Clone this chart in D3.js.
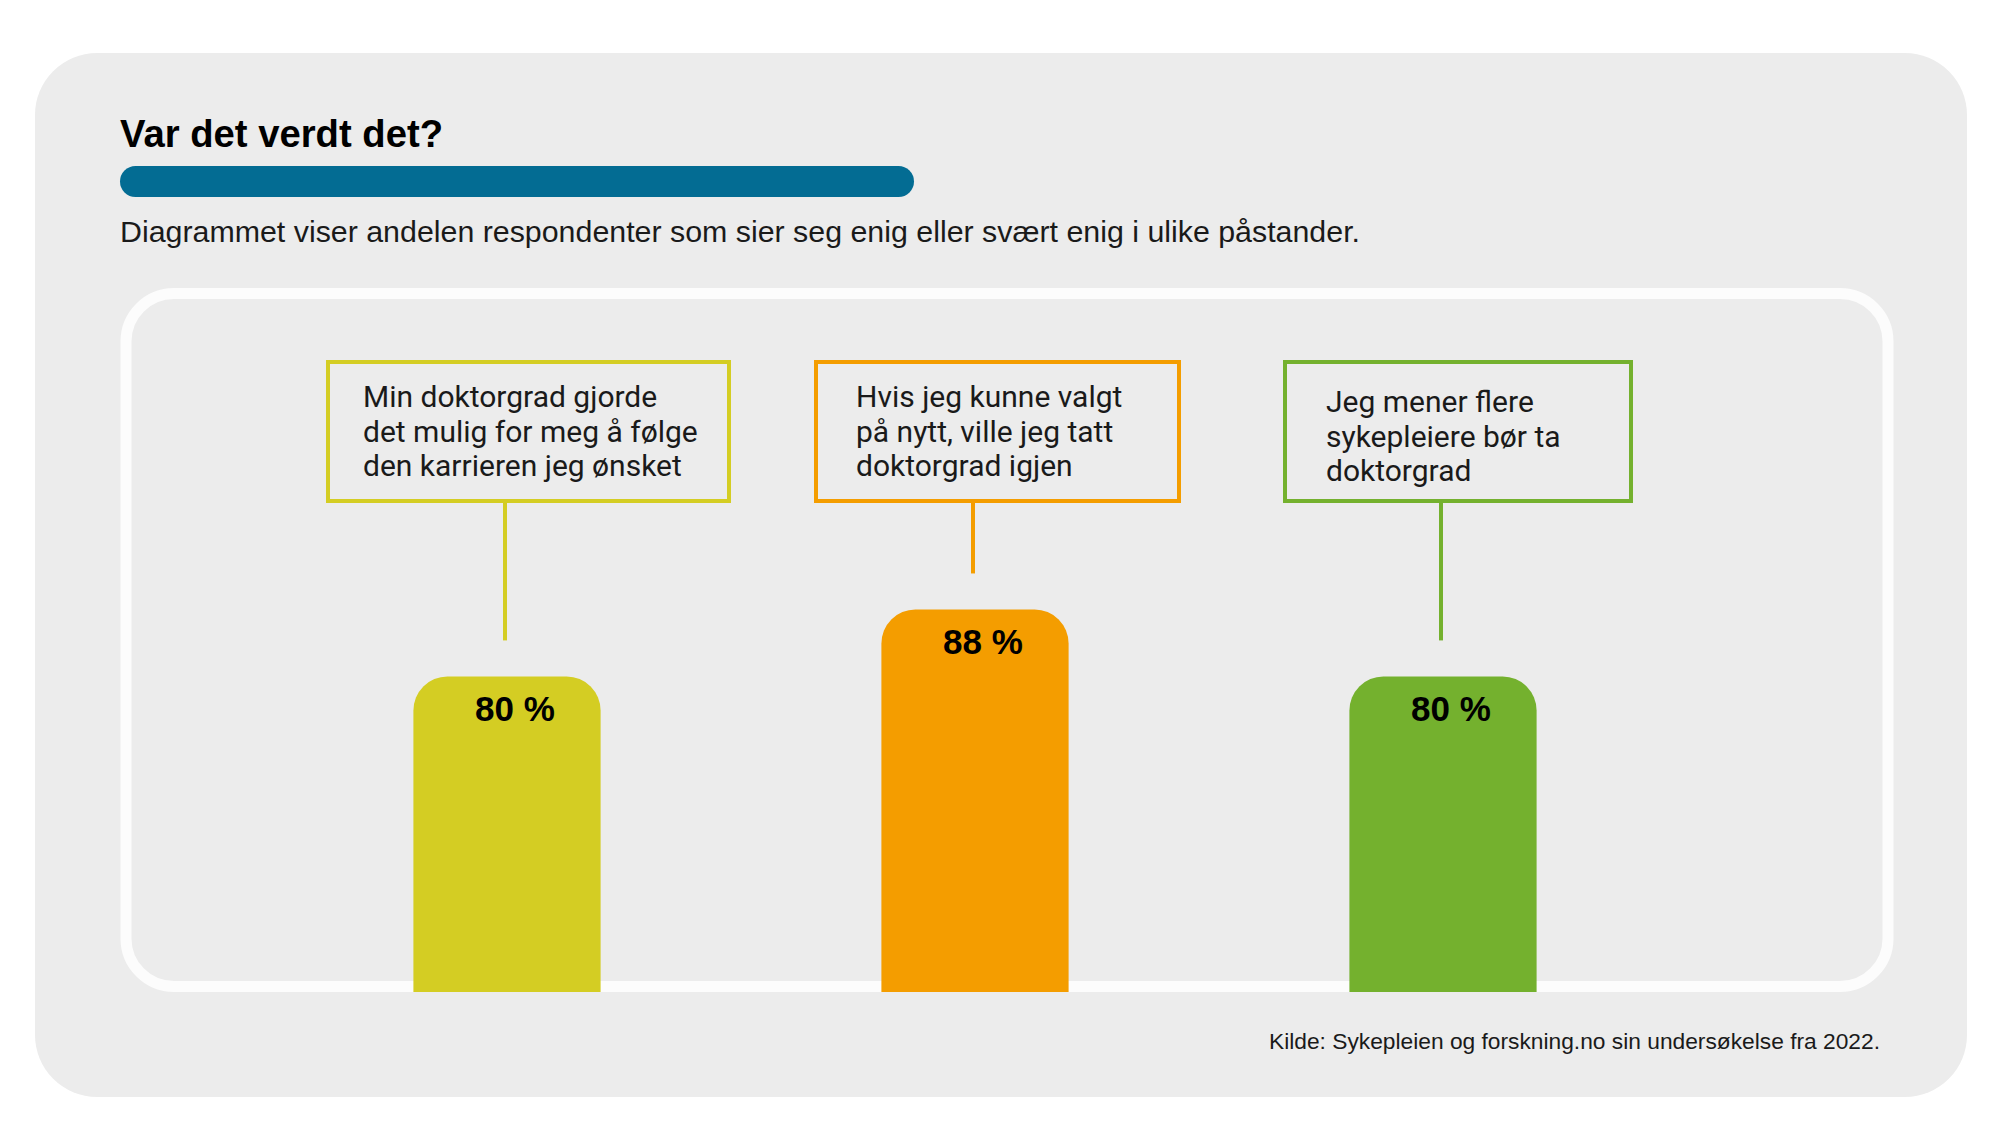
<!DOCTYPE html>
<html>
<head>
<meta charset="utf-8">
<script src="https://cdn.jsdelivr.net/npm/d3@7"></script>
<style>
  body { margin: 0; background: #fff; }
</style>
</head>
<body>
<div id="chart"></div>
<script>
// Data
const categories = ["karriere", "igjen", "flere"];
const labelLines = [
  ["Min doktorgrad gjorde", "det mulig for meg å følge", "den karrieren jeg ønsket"],
  ["Hvis jeg kunne valgt", "på nytt, ville jeg tatt", "doktorgrad igjen"],
  ["Jeg mener flere", "sykepleiere bør ta", "doktorgrad"]
];
const values = [80, 88, 80];
const valueLabels = ["80 %", "88 %", "80 %"];

const colors = ["#d4cd23", "#f49d00", "#74b12e"];
// label box offsets relative to bar center
const boxLayout = [
  { dx: -179, w: 401, tx: 35, ty: 45 },
  { dx: -159, w: 363, tx: 40, ty: 45 },
  { dx: -158, w: 346, tx: 41, ty: 50 }
];

const W = 2000, H = 1147;
const svg = d3.select("#chart").append("svg")
  .attr("width", W).attr("height", H);

// Outer panel
svg.append("rect")
  .attr("x", 35).attr("y", 53)
  .attr("width", 1932).attr("height", 1044)
  .attr("rx", 62)
  .attr("fill", "#ececec");

// Title
svg.append("text")
  .attr("x", 120).attr("y", 147)
  .attr("font-family", "'Liberation Sans Narrow', 'Arial Narrow', sans-serif")
  .attr("font-weight", "bold")
  .attr("font-size", "39px")
  .attr("textLength", 323)
  .attr("lengthAdjust", "spacingAndGlyphs")
  .attr("fill", "#000")
  .text("Var det verdt det?");

// Blue bar under title
svg.append("rect")
  .attr("x", 120).attr("y", 166)
  .attr("width", 794).attr("height", 31)
  .attr("rx", 15.5)
  .attr("fill", "#036c93");

// Subtitle
svg.append("text")
  .attr("x", 120).attr("y", 242)
  .attr("font-family", "'Liberation Sans Narrow', 'Arial Narrow', sans-serif")
  .attr("font-size", "30px")
  .attr("textLength", 1240)
  .attr("lengthAdjust", "spacingAndGlyphs")
  .attr("fill", "#1a1a1a")
  .text("Diagrammet viser andelen respondenter som sier seg enig eller svært enig i ulike påstander.");

// Inner panel
svg.append("rect")
  .attr("x", 126).attr("y", 293.5)
  .attr("width", 1762).attr("height", 693)
  .attr("rx", 48)
  .attr("fill", "none")
  .attr("stroke", "#fcfcfc")
  .attr("stroke-width", 11);

// Scales
const x = d3.scaleBand()
  .domain(categories)
  .range([273, 1677])
  .paddingInner(0.6)
  .paddingOuter(0.3);

const y = d3.scaleLinear()
  .domain([42.3, 100])
  .range([992, 509]);

const BOTTOM = y.range()[0];
const R = 34;

function topRounded(x0, y0, w, h, r) {
  return `M${x0},${y0 + h}V${y0 + r}A${r},${r} 0 0 1 ${x0 + r},${y0}` +
    `H${x0 + w - r}A${r},${r} 0 0 1 ${x0 + w},${y0 + r}V${y0 + h}Z`;
}

const g = svg.append("g");

const items = categories.map((c, i) => ({
  cat: c, value: values[i], label: valueLabels[i],
  lines: labelLines[i], color: colors[i], box: boxLayout[i]
}));

// Label boxes
items.forEach((d) => {
  const cx = x(d.cat) + x.bandwidth() / 2;
  const bx = cx + d.box.dx;
  g.append("rect")
    .attr("x", bx).attr("y", 362)
    .attr("width", d.box.w).attr("height", 139)
    .attr("fill", "none")
    .attr("stroke", d.color)
    .attr("stroke-width", 4);

  g.append("line")
    .attr("x1", cx - 2).attr("x2", cx - 2)
    .attr("y1", 503).attr("y2", y(d.value) - 36)
    .attr("stroke", d.color)
    .attr("stroke-width", 4);

  const t = g.append("text")
    .attr("font-family", "Roboto, 'Noto Sans', sans-serif")
    .attr("font-size", "30px")
    .attr("fill", "#1a1a1a");
  d.lines.forEach((line, j) => {
    t.append("tspan")
      .attr("x", bx + d.box.tx)
      .attr("y", 362 + d.box.ty + j * 34.5)
      .text(line);
  });
});

// Bars
g.selectAll("path.bar")
  .data(items)
  .enter()
  .append("path")
  .attr("class", "bar")
  .attr("d", (d) => topRounded(x(d.cat), y(d.value), x.bandwidth(), BOTTOM - y(d.value), R))
  .attr("fill", (d) => d.color);

// Value labels
g.selectAll("text.val")
  .data(items)
  .enter()
  .append("text")
  .attr("class", "val")
  .attr("x", (d) => x(d.cat) + x.bandwidth() / 2 + 8)
  .attr("y", (d) => y(d.value) + 45)
  .attr("text-anchor", "middle")
  .attr("font-family", "'Liberation Sans', Arial, sans-serif")
  .attr("font-weight", "bold")
  .attr("font-size", "35px")
  .attr("fill", "#000")
  .text((d) => d.label);

// Source
svg.append("text")
  .attr("x", 1880).attr("y", 1049)
  .attr("text-anchor", "end")
  .attr("font-family", "'Liberation Sans Narrow', 'Arial Narrow', sans-serif")
  .attr("font-size", "22px")
  .attr("textLength", 611)
  .attr("lengthAdjust", "spacingAndGlyphs")
  .attr("fill", "#1a1a1a")
  .text("Kilde: Sykepleien og forskning.no sin undersøkelse fra 2022.");
</script>
</body>
</html>
